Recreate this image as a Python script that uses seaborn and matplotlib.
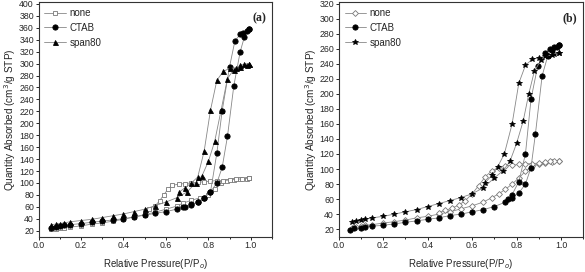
import numpy as np
import pandas as pd
import matplotlib
matplotlib.use("Agg")
import matplotlib.pyplot as plt
import seaborn as sns
from matplotlib.ticker import MultipleLocator

sns.set_style("ticks")
plt.rcParams['font.family'] = ['Liberation Sans', 'DejaVu Sans']

# ---------------- Panel (a) ----------------
a_none_ads_p = [0.06,0.08,0.10,0.12,0.15,0.20,0.25,0.30,0.35,0.40,0.45,0.50,0.55,0.60,0.65,0.68,0.72,0.76,0.80,0.83,0.86,0.89,0.92,0.95,0.98,0.99]
a_none_ads_v = [22,23,24,25,26,28,31,33,36,39,43,47,51,56,61,66,71,75,80,90,100,104,105,106,107,108]
a_none_des_p = [0.99,0.96,0.93,0.90,0.87,0.84,0.81,0.78,0.75,0.72,0.69,0.66,0.63,0.61,0.59,0.57,0.55,0.52,0.50]
a_none_des_v = [108,107,106,105,104,104,103,102,101,100,99,98,96,90,80,70,62,57,52]

a_ctab_ads_p = [0.06,0.08,0.10,0.12,0.15,0.20,0.25,0.30,0.35,0.40,0.45,0.50,0.55,0.60,0.65,0.68,0.72,0.75,0.78,0.81,0.84,0.865,0.89,0.92,0.95,0.97,0.99]
a_ctab_ads_v = [25,26,28,29,30,32,34,36,38,40,43,46,49,52,56,59,63,68,75,85,100,126,178,263,320,345,358]
a_ctab_des_p = [0.99,0.98,0.965,0.95,0.925,0.90,0.865,0.84,0.81,0.78,0.75,0.72,0.69]
a_ctab_des_v = [358,355,352,349,338,295,221,150,85,75,68,64,60]

a_span_ads_p = [0.06,0.08,0.10,0.12,0.15,0.20,0.25,0.30,0.35,0.40,0.45,0.50,0.55,0.60,0.65,0.70,0.74,0.77,0.80,0.83,0.86,0.89,0.92,0.95,0.98,0.99]
a_span_ads_v = [30,31,32,33,35,37,39,42,45,48,52,56,62,68,75,85,100,112,136,170,222,275,290,295,298,300]
a_span_des_p = [0.99,0.97,0.95,0.93,0.90,0.87,0.84,0.81,0.78,0.75,0.72,0.69,0.66]
a_span_des_v = [300,299,297,293,292,287,272,222,153,110,100,92,84]

# ---------------- Panel (b) ----------------
b_none_ads_p = [0.06,0.08,0.10,0.12,0.15,0.20,0.25,0.30,0.35,0.40,0.45,0.50,0.55,0.60,0.65,0.69,0.72,0.75,0.78,0.81,0.84,0.87,0.90,0.93,0.96,0.99]
b_none_ads_v = [22,23,24,25,26,28,30,32,35,37,40,43,47,51,56,62,67,73,80,88,97,104,106,108,109,111]
b_none_des_p = [0.99,0.97,0.95,0.93,0.90,0.87,0.84,0.81,0.78,0.75,0.72,0.69,0.66,0.63,0.60,0.57,0.54,0.51,0.48,0.45]
b_none_des_v = [111,110,110,109,108,107,107,106,105,104,102,98,90,78,67,58,52,48,45,42]

b_ctab_ads_p = [0.05,0.07,0.10,0.12,0.15,0.20,0.25,0.30,0.35,0.40,0.45,0.50,0.55,0.60,0.65,0.70,0.75,0.78,0.81,0.84,0.865,0.885,0.915,0.94,0.96,0.98,0.99]
b_ctab_ads_v = [19,21,22,23,24,25,27,29,31,33,35,38,40,43,46,50,56,62,68,80,102,147,224,250,258,262,265]
b_ctab_des_p = [0.99,0.97,0.95,0.93,0.895,0.865,0.84,0.81,0.78,0.76]
b_ctab_des_v = [265,263,260,255,237,193,120,83,66,60]

b_span_ads_p = [0.06,0.08,0.10,0.12,0.15,0.20,0.25,0.30,0.35,0.40,0.45,0.50,0.55,0.60,0.65,0.70,0.74,0.77,0.80,0.83,0.855,0.88,0.91,0.94,0.97,0.99]
b_span_ads_v = [30,31,32,33,35,37,40,43,46,50,54,58,62,67,75,88,98,110,134,164,200,230,245,250,253,255]
b_span_des_p = [0.99,0.96,0.93,0.90,0.87,0.84,0.81,0.78,0.745,0.715,0.69,0.66]
b_span_des_v = [255,252,250,248,246,238,214,160,120,103,92,82]

fig = plt.figure(figsize=(5.85, 2.72), dpi=100)
axA = fig.add_axes([0.066, 0.13, 0.399, 0.862])
axB = fig.add_axes([0.579, 0.13, 0.418, 0.862])

def branch(ax, p, v, marker, mfc, mec, label, ms):
    df = pd.DataFrame({"P": p, "V": v})
    sns.lineplot(data=df, x="P", y="V", ax=ax, sort=False, color="#888888",
                 linewidth=0.6, marker=marker, markersize=ms,
                 markerfacecolor=mfc, markeredgecolor=mec, markeredgewidth=0.6,
                 label=label)

def panel(ax, series, ylim, ytop, tag, ylab_x):
    for (ads_p, ads_v, des_p, des_v, marker, mfc, mec, label, ms) in series:
        branch(ax, ads_p, ads_v, marker, mfc, mec, label, ms)
        branch(ax, des_p, des_v, marker, mfc, mec, None, ms)
    ax.set_xlim(0, 1.1)
    ax.set_ylim(*ylim)
    ax.xaxis.set_minor_locator(MultipleLocator(0.1))
    ax.set_xticks(np.arange(0, 1.01, 0.2))
    ax.set_yticks(np.arange(20, ytop + 1, 20))
    ax.tick_params(axis="both", which="both", direction="out", labelsize=6.3,
                   length=2.2, width=0.7, pad=1.2)
    ax.tick_params(axis="x", which="minor", length=1.6)
    for s in ax.spines.values():
        s.set_linewidth(0.8)
        s.set_color("#333333")
    ax.set_xlabel("Relative Pressure(P/P$_o$)", fontsize=7, labelpad=5)
    ax.set_ylabel("Quantity Absorbed (cm$^3$/g STP)", fontsize=7.2)
    ax.yaxis.set_label_coords(ylab_x, 0.5)
    ax.legend(loc="upper left", frameon=False, fontsize=7, handlelength=2.2,
              borderaxespad=0.2, labelspacing=0.5, handletextpad=0.4)
    ax.text(0.975, 0.955, tag, transform=ax.transAxes, ha="right", va="top",
            fontsize=8.5, fontweight="bold", family="Liberation Serif")

panel(axA, [
    (a_none_ads_p, a_none_ads_v, a_none_des_p, a_none_des_v, "s", "white", "#777777", "none", 3.2),
    (a_ctab_ads_p, a_ctab_ads_v, a_ctab_des_p, a_ctab_des_v, "o", "black", "black", "CTAB", 3.8),
    (a_span_ads_p, a_span_ads_v, a_span_des_p, a_span_des_v, "^", "black", "black", "span80", 3.6),
], (10, 403), 400, "(a)", -0.088)

panel(axB, [
    (b_none_ads_p, b_none_ads_v, b_none_des_p, b_none_des_v, "D", "white", "#777777", "none", 3.0),
    (b_ctab_ads_p, b_ctab_ads_v, b_ctab_des_p, b_ctab_des_v, "o", "black", "black", "CTAB", 3.8),
    (b_span_ads_p, b_span_ads_v, b_span_des_p, b_span_des_v, "*", "black", "black", "span80", 4.0),
], (10, 322), 320, "(b)", -0.082)

fig.savefig("out.png", dpi=100)
